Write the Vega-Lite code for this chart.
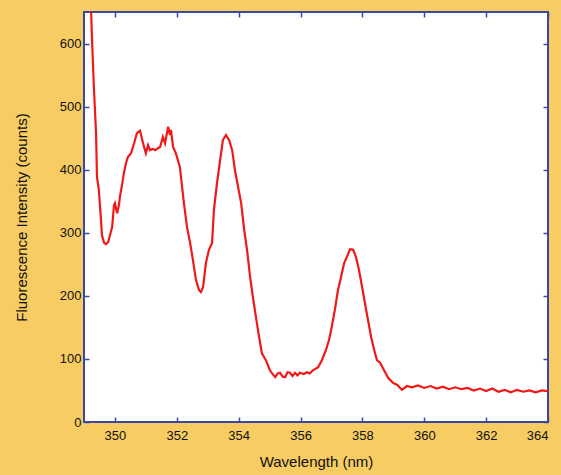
{
  "$schema": "https://vega.github.io/schema/vega-lite/v6.json",
  "width": 464,
  "height": 410,
  "autosize": {"type": "none"},
  "padding": {"left": 84, "top": 12, "right": 13, "bottom": 53},
  "background": "#f7cc62",
  "config": {
    "view": {"fill": "#ffffff", "stroke": "#3b47a6", "strokeWidth": 2},
    "axis": {
      "domain": false,
      "grid": false,
      "tickColor": "#3b47a6",
      "tickWidth": 1.5,
      "tickSize": -5,
      "labelFont": "Liberation Sans",
      "labelFontSize": 13,
      "labelColor": "#111111",
      "titleFont": "Liberation Sans",
      "titleFontSize": 15,
      "titleFontWeight": "normal",
      "titleColor": "#111111"
    }
  },
  "data": {
    "values": [
      {"wl": 349.16, "i": 760},
      {"wl": 349.26, "i": 605},
      {"wl": 349.32, "i": 530},
      {"wl": 349.39, "i": 458},
      {"wl": 349.42, "i": 388},
      {"wl": 349.48, "i": 368},
      {"wl": 349.55, "i": 320},
      {"wl": 349.58, "i": 296},
      {"wl": 349.65, "i": 284},
      {"wl": 349.71, "i": 282},
      {"wl": 349.78, "i": 285},
      {"wl": 349.84, "i": 296},
      {"wl": 349.91, "i": 309},
      {"wl": 349.97, "i": 344},
      {"wl": 350.0, "i": 347},
      {"wl": 350.07, "i": 331},
      {"wl": 350.13, "i": 344},
      {"wl": 350.16, "i": 357},
      {"wl": 350.23, "i": 376},
      {"wl": 350.29, "i": 395},
      {"wl": 350.36, "i": 411},
      {"wl": 350.42, "i": 420},
      {"wl": 350.52, "i": 426},
      {"wl": 350.62, "i": 442},
      {"wl": 350.71, "i": 458},
      {"wl": 350.81, "i": 462},
      {"wl": 350.91, "i": 442},
      {"wl": 351.0, "i": 426},
      {"wl": 351.07, "i": 439},
      {"wl": 351.13, "i": 431},
      {"wl": 351.23, "i": 433},
      {"wl": 351.3, "i": 431},
      {"wl": 351.39, "i": 434},
      {"wl": 351.46, "i": 436},
      {"wl": 351.55, "i": 452},
      {"wl": 351.62, "i": 442},
      {"wl": 351.72, "i": 468},
      {"wl": 351.78, "i": 455},
      {"wl": 351.81, "i": 463},
      {"wl": 351.88, "i": 436},
      {"wl": 351.97, "i": 426},
      {"wl": 352.1, "i": 404},
      {"wl": 352.23, "i": 347},
      {"wl": 352.33, "i": 309},
      {"wl": 352.43, "i": 284},
      {"wl": 352.52, "i": 257},
      {"wl": 352.62, "i": 225},
      {"wl": 352.72, "i": 209},
      {"wl": 352.78, "i": 206},
      {"wl": 352.85, "i": 214},
      {"wl": 352.94, "i": 252},
      {"wl": 353.04, "i": 273},
      {"wl": 353.14, "i": 284},
      {"wl": 353.2, "i": 336},
      {"wl": 353.3, "i": 379},
      {"wl": 353.4, "i": 415},
      {"wl": 353.49, "i": 447},
      {"wl": 353.59, "i": 455},
      {"wl": 353.69, "i": 447},
      {"wl": 353.79, "i": 431},
      {"wl": 353.88, "i": 399},
      {"wl": 353.98, "i": 373},
      {"wl": 354.08, "i": 347},
      {"wl": 354.18, "i": 304},
      {"wl": 354.27, "i": 273},
      {"wl": 354.37, "i": 230},
      {"wl": 354.46, "i": 198},
      {"wl": 354.56, "i": 166},
      {"wl": 354.66, "i": 135},
      {"wl": 354.75, "i": 109},
      {"wl": 354.88, "i": 98},
      {"wl": 355.01, "i": 82},
      {"wl": 355.1, "i": 76},
      {"wl": 355.18, "i": 71},
      {"wl": 355.26, "i": 77},
      {"wl": 355.34, "i": 78},
      {"wl": 355.42, "i": 72},
      {"wl": 355.5, "i": 71},
      {"wl": 355.58, "i": 79},
      {"wl": 355.66, "i": 78},
      {"wl": 355.74, "i": 73},
      {"wl": 355.82, "i": 78},
      {"wl": 355.9, "i": 74},
      {"wl": 355.98, "i": 78},
      {"wl": 356.1, "i": 76},
      {"wl": 356.21, "i": 79},
      {"wl": 356.3, "i": 77},
      {"wl": 356.4, "i": 82},
      {"wl": 356.57, "i": 87},
      {"wl": 356.69, "i": 98},
      {"wl": 356.82, "i": 114},
      {"wl": 356.92, "i": 130},
      {"wl": 357.01, "i": 151},
      {"wl": 357.11, "i": 178},
      {"wl": 357.21, "i": 209},
      {"wl": 357.31, "i": 230},
      {"wl": 357.41, "i": 252},
      {"wl": 357.5, "i": 262},
      {"wl": 357.6, "i": 274},
      {"wl": 357.7, "i": 273},
      {"wl": 357.79, "i": 262},
      {"wl": 357.89, "i": 241},
      {"wl": 357.99, "i": 214},
      {"wl": 358.08, "i": 189},
      {"wl": 358.18, "i": 162},
      {"wl": 358.28, "i": 135},
      {"wl": 358.38, "i": 114},
      {"wl": 358.47, "i": 98},
      {"wl": 358.57, "i": 94},
      {"wl": 358.7, "i": 82},
      {"wl": 358.83, "i": 70},
      {"wl": 358.99, "i": 62},
      {"wl": 359.12, "i": 59},
      {"wl": 359.28, "i": 51},
      {"wl": 359.44, "i": 57},
      {"wl": 359.6, "i": 55},
      {"wl": 359.8, "i": 58},
      {"wl": 360.0, "i": 54},
      {"wl": 360.2, "i": 57},
      {"wl": 360.4, "i": 53},
      {"wl": 360.6, "i": 56},
      {"wl": 360.8, "i": 52},
      {"wl": 361.0, "i": 55},
      {"wl": 361.2, "i": 52},
      {"wl": 361.4, "i": 54},
      {"wl": 361.6, "i": 50},
      {"wl": 361.8, "i": 53},
      {"wl": 362.0, "i": 49},
      {"wl": 362.2, "i": 53},
      {"wl": 362.4, "i": 48},
      {"wl": 362.6, "i": 51},
      {"wl": 362.8, "i": 47},
      {"wl": 363.0, "i": 51},
      {"wl": 363.2, "i": 48},
      {"wl": 363.4, "i": 50},
      {"wl": 363.6, "i": 47},
      {"wl": 363.8, "i": 50},
      {"wl": 364.0, "i": 49}
    ]
  },
  "layer": [
    {
      "mark": {"type": "line", "color": "#f01818", "strokeWidth": 2.2, "clip": true},
      "encoding": {
        "x": {
          "field": "wl", "type": "quantitative",
          "scale": {"domain": [349, 364], "nice": false, "zero": false},
          "axis": {"orient": "bottom", "values": [350, 352, 354, 356, 358, 360, 362, 364], "title": "Wavelength (nm)", "labelPadding": 12, "titlePadding": 12}
        },
        "y": {
          "field": "i", "type": "quantitative",
          "scale": {"domain": [0, 650], "nice": false},
          "axis": {"orient": "left", "values": [0, 100, 200, 300, 400, 500, 600], "title": "Fluorescence Intensity (counts)", "labelPadding": 8, "titlePadding": 30}
        }
      }
    },
    {
      "mark": {"type": "line", "color": "#f01818", "strokeWidth": 2, "clip": true, "opacity": 0},
      "encoding": {
        "x": {
          "field": "wl", "type": "quantitative",
          "axis": {"orient": "top", "values": [350, 352, 354, 356, 358, 360, 362, 364], "labels": false, "title": null}
        },
        "y": {
          "field": "i", "type": "quantitative",
          "axis": {"orient": "right", "values": [0, 100, 200, 300, 400, 500, 600], "labels": false, "title": null}
        }
      }
    }
  ],
  "resolve": {"axis": {"x": "independent", "y": "independent"}}
}
